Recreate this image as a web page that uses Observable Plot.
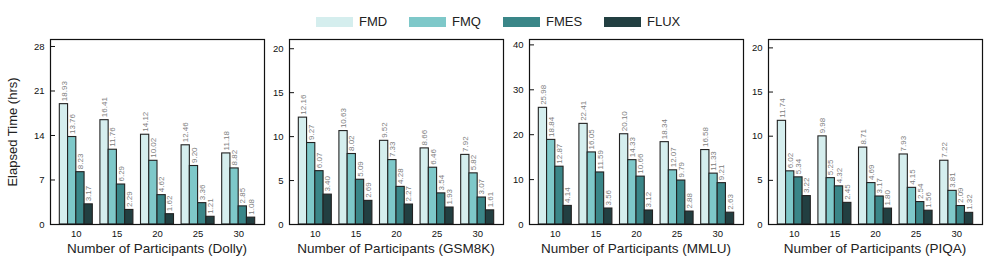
<!DOCTYPE html>
<html>
<head>
<meta charset="utf-8">
<script src="https://cdn.jsdelivr.net/npm/d3@7"></script>
<script src="https://cdn.jsdelivr.net/npm/@observablehq/plot@0.6"></script>
<style>
  html, body { margin: 0; padding: 0; background: #fff; }
  #wrap { position: relative; width: 997px; height: 271px; font-family: "Liberation Sans", Arial, sans-serif; color: #222; overflow: hidden; }
  .abs { position: absolute; white-space: nowrap; }
  .panel svg { display: block; }
</style>
</head>
<body>
<div id="wrap"></div>
<script>
// ---------- data ----------
const groups = ["10", "15", "20", "25", "30"];
const series = ["FMD", "FMQ", "FMES", "FLUX"];
const colors = ["#d5eeee", "#7ec8c9", "#3a8688", "#223f41"];

const dollyValues = [
  [18.93, 13.76, 8.23, 3.17],
  [16.41, 11.76, 6.29, 2.29],
  [14.12, 10.02, 4.62, 1.62],
  [12.46, 9.20, 3.36, 1.21],
  [11.18, 8.82, 2.85, 1.08]
];
const gsm8kValues = [
  [12.16, 9.27, 6.07, 3.40],
  [10.63, 8.02, 5.09, 2.69],
  [9.52, 7.33, 4.28, 2.27],
  [8.66, 6.46, 3.54, 1.93],
  [7.92, 5.82, 3.07, 1.61]
];
const mmluValues = [
  [25.98, 18.84, 12.87, 4.14],
  [22.41, 16.05, 11.59, 3.56],
  [20.10, 14.33, 10.66, 3.12],
  [18.34, 12.07, 9.79, 2.88],
  [16.58, 11.33, 9.21, 2.63]
];
const piqaValues = [
  [11.74, 6.02, 5.34, 3.22],
  [9.98, 5.25, 4.32, 2.45],
  [8.71, 4.69, 3.17, 1.80],
  [7.93, 4.15, 2.54, 1.56],
  [7.22, 3.81, 2.09, 1.32]
];

const panelNames = ["Dolly", "GSM8K", "MMLU", "PIQA"];
const dollyTicks = [0, 7, 14, 21, 28];
const gsm8kTicks = [0, 5, 10, 15, 20];
const mmluTicks = [0, 10, 20, 30, 40];
const piqaTicks = [0, 5, 10, 15, 20];
const yMaxes = [29.1, 21.05, 41.2, 20.95];

const yTitle = "Elapsed Time (hrs)";
const xTitlePrefix = "Number of Participants";

// ---------- layout ----------
const frameLefts = [50, 289, 529, 768];
const frameW = 214;
const marginTop = 39, marginBottom = 47, H = 271;
const xDom = [-0.636, 4.636];
const pxPerUnit = frameW / (xDom[1] - xDom[0]);
const barW = 8.25 / pxPerUnit;

const wrap = document.getElementById("wrap");

const panelValues = [dollyValues, gsm8kValues, mmluValues, piqaValues];
const panelTicks = [dollyTicks, gsm8kTicks, mmluTicks, piqaTicks];

panelValues.forEach((vals, p) => {
  const rows = [];
  vals.forEach((row, gi) => {
    row.forEach((v, si) => {
      const x1 = gi + (si - 2) * barW;
      rows.push({group: groups[gi], series: series[si], value: v, x1, x2: x1 + barW, xm: x1 + barW / 2});
    });
  });
  const ml = p === 0 ? 50 : 30;
  const mr = 2;
  const ticks = panelTicks[p];
  const chart = Plot.plot({
    width: ml + frameW + mr,
    height: H,
    marginLeft: ml,
    marginRight: mr,
    marginTop,
    marginBottom,
    style: {fontFamily: "'Liberation Sans', Arial, sans-serif", fontSize: "9.5px", color: "#111", background: "transparent", overflow: "visible"},
    x: {domain: xDom, ticks: [0, 1, 2, 3, 4], tickFormat: i => groups[i], tickSize: 0, tickPadding: 6, label: null},
    y: {domain: [0, yMaxes[p]], ticks, tickSize: 0, tickPadding: 6, label: null},
    color: {domain: series, range: colors},
    marks: [
      Plot.rectY(rows, {x1: "x1", x2: "x2", y: "value", fill: "series", stroke: "#222", strokeWidth: 1.1}),
      Plot.text(rows, {x: "xm", y: "value", text: d => d.value.toFixed(2), rotate: -90, textAnchor: "start", dy: -3, fill: "#808080", fontSize: 8}),
      Plot.ruleY(ticks, {x1: xDom[0], x2: xDom[0] + 5 / pxPerUnit, stroke: "#111", strokeWidth: 1}),
      Plot.frame({stroke: "#111", strokeWidth: 1.2})
    ]
  });
  const holder = document.createElement("div");
  holder.className = "abs panel";
  holder.style.left = (frameLefts[p] - ml) + "px";
  holder.style.top = "0px";
  holder.appendChild(chart);
  wrap.appendChild(holder);

  const xt = document.createElement("div");
  xt.className = "abs";
  xt.textContent = `${xTitlePrefix} (${panelNames[p]})`;
  xt.style.left = (frameLefts[p] + frameW / 2) + "px";
  xt.style.top = "241px";
  xt.style.lineHeight = "16px";
  xt.style.fontSize = "13.5px";
  xt.style.color = "#222";
  xt.style.transform = "translateX(-50%)";
  wrap.appendChild(xt);
});

// y title
const yt = document.createElement("div");
yt.className = "abs";
yt.textContent = yTitle;
yt.style.left = "12px";
yt.style.top = "132px";
yt.style.fontSize = "13px";
yt.style.lineHeight = "15px";
yt.style.color = "#222";
yt.style.transform = "translate(-50%, -50%) rotate(-90deg)";
wrap.appendChild(yt);

// legend
const swatchX = [316, 409, 503, 604];
series.forEach((s, i) => {
  const sw = document.createElement("div");
  sw.className = "abs";
  sw.style.left = swatchX[i] + "px";
  sw.style.top = "17px";
  sw.style.width = "37px";
  sw.style.height = "10px";
  sw.style.background = colors[i];
  wrap.appendChild(sw);
  const t = document.createElement("div");
  t.className = "abs";
  t.textContent = s;
  t.style.left = (swatchX[i] + 43) + "px";
  t.style.top = "14px";
  t.style.lineHeight = "16px";
  t.style.fontSize = "13px";
  t.style.color = "#222";
  wrap.appendChild(t);
});
</script>
</body>
</html>
